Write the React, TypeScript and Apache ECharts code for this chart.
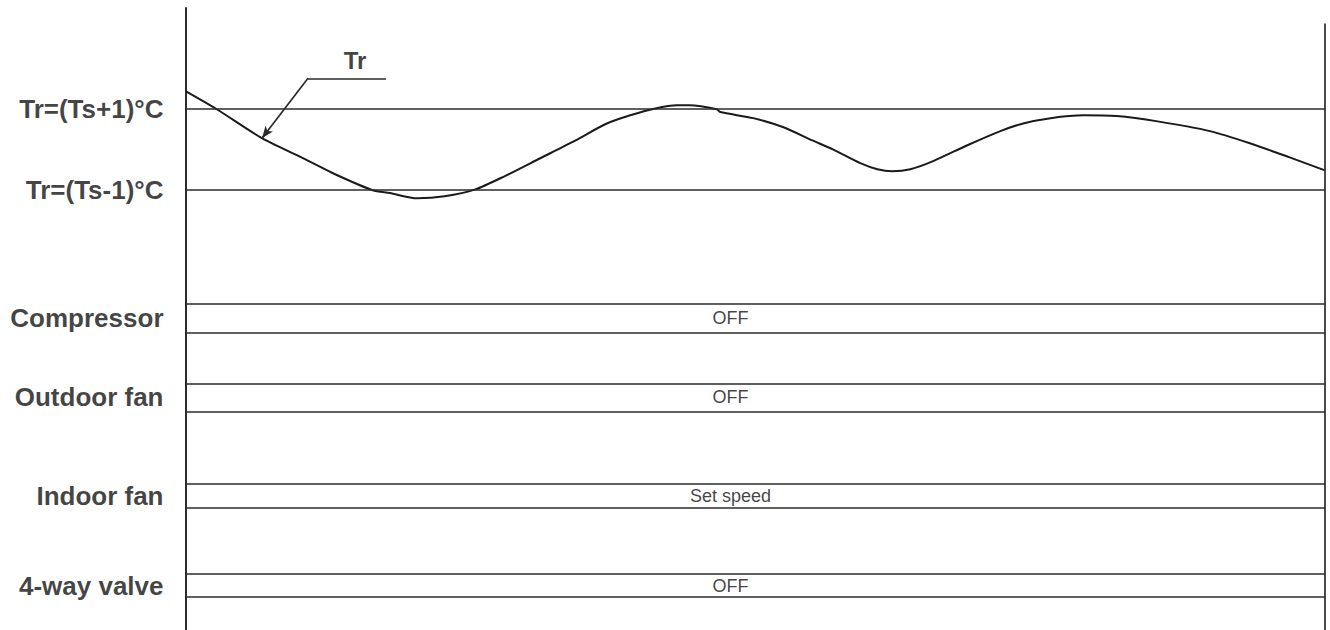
import React, { useEffect, useRef } from "react";
import * as echarts from "echarts";

// Time axis (arbitrary units 0..100) and room temperature Tr relative to Ts (°C)
const curveTime = [0, 2.7, 6.7, 10.0, 12.9, 16.4, 17.9, 20.3, 22.7, 25.4, 28.0, 31.1, 34.2, 36.8, 39.0, 41.2, 43.1, 44.2, 46.6, 46.9, 49.8, 52.4, 55.0, 56.8, 59.2, 60.7, 62.0, 63.6, 65.6, 68.6, 71.5, 73.5, 75.9, 78.8, 81.7, 85.3, 89.9, 93.4, 96.9, 100];
const curveTr = [1.44, 1.0, 0.28, -0.17, -0.58, -1.0, -1.07, -1.2, -1.15, -0.98, -0.65, -0.21, 0.23, 0.63, 0.85, 1.02, 1.1, 1.1, 1.0, 0.93, 0.78, 0.56, 0.23, 0.01, -0.33, -0.48, -0.53, -0.48, -0.28, 0.11, 0.46, 0.65, 0.78, 0.85, 0.83, 0.7, 0.46, 0.16, -0.19, -0.51];

// Threshold levels
const thresholdLevels = [1, -1];
const thresholdLabels = ["Tr=(Ts+1)°C", "Tr=(Ts-1)°C"];

// Signal rows (levels on the same vertical scale)
const rowNames = ["Compressor", "Outdoor fan", "Indoor fan", "4-way valve"];
const rowStates = ["OFF", "OFF", "Set speed", "OFF"];
const rowUpper = [-3.81, -5.77, -8.26, -10.48];
const rowLower = [-4.51, -6.46, -8.83, -11.05];
const stateLabelTime = 47.8;

// Tr annotation
const trNoteText = "Tr";
const trNotePos = [14.84, 2.21];
const leaderKnee = [10.71, 1.765];
const leaderEnd = [17.56, 1.765];
const leaderTip = [6.67, 0.284];

const X_MIN = 0;
const X_MAX = 100;
const Y_MIN = -11.86;
const Y_MAX = 3.5;
const RIGHT_BORDER_TOP = 3.12;

const FONT = "'Liberation Sans', Arial, Helvetica, sans-serif";
const TEXT = "#111111";
const LINE = "#2b2b2b";

export default function App() {
  const ref = useRef<HTMLDivElement | null>(null);

  useEffect(() => {
    document.body.style.margin = "0";
    if (!ref.current) return;
    const chart = echarts.init(ref.current, null, { renderer: "svg" });

    const curveData = curveTime.map((t, i) => [t, curveTr[i]]);

    const hLines: any[] = [];
    thresholdLevels.forEach((v) => hLines.push({ yAxis: v }));
    rowUpper.forEach((v) => hLines.push({ yAxis: v }));
    rowLower.forEach((v) => hLines.push({ yAxis: v }));

    const segLines: any[] = [
      [
        { coord: [X_MAX, RIGHT_BORDER_TOP], symbol: "none" },
        { coord: [X_MAX, Y_MIN], symbol: "none" },
      ],
      [
        { coord: leaderKnee, symbol: "none" },
        { coord: leaderEnd, symbol: "none" },
      ],
      [
        { coord: leaderKnee, symbol: "none" },
        { coord: leaderTip, symbol: "arrow", symbolSize: [7, 12] },
      ],
    ];

    const leftLabelStyle = {
      show: true,
      position: "left",
      distance: 22,
      fontFamily: FONT,
      fontWeight: "bold",
      fontSize: 26,
      color: TEXT,
    };

    const textData: any[] = [];
    thresholdLevels.forEach((v, i) =>
      textData.push({
        value: [X_MIN, v],
        label: { ...leftLabelStyle, formatter: thresholdLabels[i] },
      })
    );
    rowNames.forEach((n, i) =>
      textData.push({
        value: [X_MIN, (rowUpper[i] + rowLower[i]) / 2],
        label: { ...leftLabelStyle, formatter: n },
      })
    );
    rowStates.forEach((s, i) =>
      textData.push({
        value: [stateLabelTime, (rowUpper[i] + rowLower[i]) / 2],
        label: {
          show: true,
          position: "inside",
          fontFamily: FONT,
          fontSize: 18,
          color: TEXT,
          formatter: s,
        },
      })
    );
    textData.push({
      value: trNotePos,
      label: {
        show: true,
        position: "inside",
        fontFamily: FONT,
        fontWeight: "bold",
        fontSize: 24,
        color: TEXT,
        formatter: trNoteText,
      },
    });

    chart.setOption({
      animation: false,
      backgroundColor: "#ffffff",
      grid: { left: 186, right: 5, top: 8, bottom: 0, containLabel: false },
      xAxis: {
        type: "value",
        min: X_MIN,
        max: X_MAX,
        show: false,
      },
      yAxis: {
        type: "value",
        min: Y_MIN,
        max: Y_MAX,
        axisLine: { show: true, lineStyle: { color: LINE, width: 2 } },
        axisTick: { show: false },
        axisLabel: { show: false },
        splitLine: { show: false },
      },
      series: [
        {
          name: "Tr",
          type: "line",
          data: curveData,
          showSymbol: false,
          symbol: "none",
          smooth: 0.25,
          lineStyle: { color: "#1a1a1a", width: 2 },
          silent: true,
          markLine: {
            silent: true,
            symbol: "none",
            label: { show: false },
            lineStyle: { color: LINE, width: 1.7, type: "solid" },
            data: [...hLines, ...segLines],
          },
          z: 3,
        },
        {
          name: "texts",
          type: "scatter",
          symbol: "circle",
          symbolSize: 1,
          itemStyle: { color: "rgba(0,0,0,0)" },
          silent: true,
          data: textData,
          z: 5,
        },
      ],
    });

    return () => chart.dispose();
  }, []);

  return <div ref={ref} style={{ width: 1330, height: 630 }} />;
}
